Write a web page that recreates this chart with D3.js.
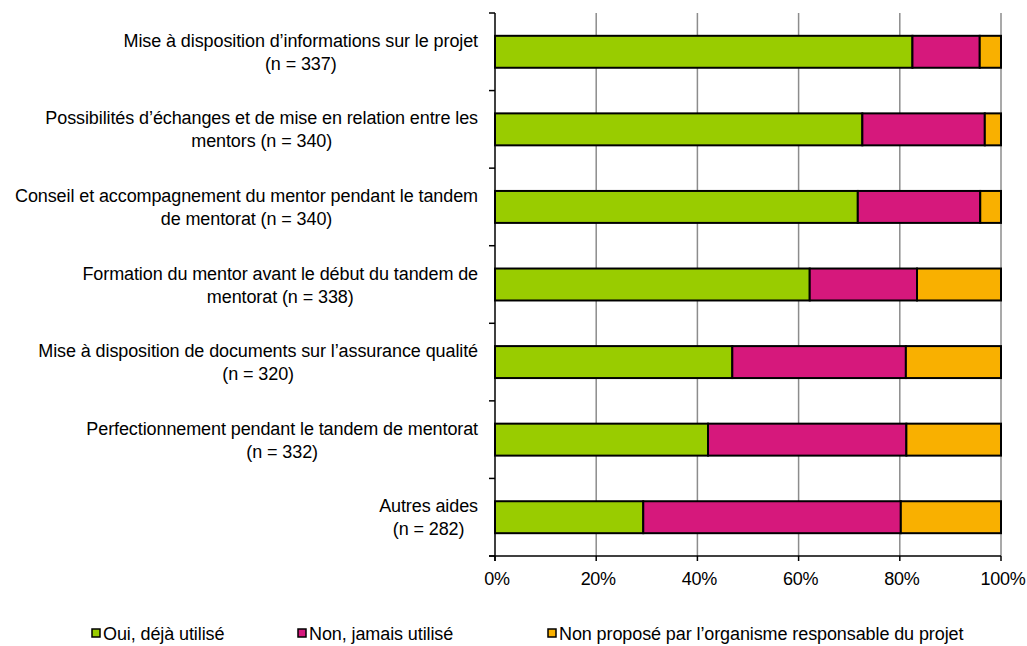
<!DOCTYPE html>
<html><head><meta charset="utf-8">
<script src="https://cdn.jsdelivr.net/npm/d3@7/dist/d3.min.js"></script>
<style>
html,body{margin:0;padding:0;background:#fff;}
text{font-family:"Liberation Sans",Arial,sans-serif;fill:#000;}
</style></head>
<body><svg id="chart" width="1027" height="646"></svg>
<script>
const categories = [
  ["Mise à disposition d’informations sur le projet", "(n = 337)"],
  ["Possibilités d’échanges et de mise en relation entre les", "mentors (n = 340)"],
  ["Conseil et accompagnement du mentor pendant le tandem", "de mentorat (n = 340)"],
  ["Formation du mentor avant le début du tandem de", "mentorat (n = 338)"],
  ["Mise à disposition de documents sur l’assurance qualité", "(n = 320)"],
  ["Perfectionnement pendant le tandem de mentorat", "(n = 332)"],
  ["Autres aides", "(n = 282)"]
];
const seriesNames = ["Oui, déjà utilisé", "Non, jamais utilisé", "Non proposé par l’organisme responsable du projet"];
const oui = [82.5, 72.6, 71.7, 62.2, 46.9, 42.1, 29.3];
const non = [13.3, 24.2, 24.2, 21.2, 34.3, 39.2, 50.9];
const nonPropose = [4.2, 3.2, 4.1, 16.6, 18.8, 18.7, 19.8];
const colors = ["#99CC00", "#D6187C", "#F9B000"];
const xTicks = [0, 20, 40, 60, 80, 100];

(function(){
const svg = d3.select("#chart");
const pl = 495, pr = 1001, pt = 13, pb = 556;
const x = d3.scaleLinear().domain([0, 100]).range([pl, pr]);
const y = d3.scaleBand().domain(d3.range(categories.length)).range([pt, pb]).paddingInner(0.588).paddingOuter(0.294);

// gridlines
svg.append("g").selectAll("line").data(xTicks.slice(1)).join("line")
  .attr("x1", d => x(d)).attr("x2", d => x(d)).attr("y1", pt).attr("y2", pb)
  .attr("stroke", "#8c8c8c").attr("stroke-width", 1.5);

// stacked bars
const rows = categories.map((c, i) => ({i, vals: [oui[i], non[i], nonPropose[i]]}));
const stack = d3.stack().keys([0, 1, 2]).value((d, k) => d.vals[k]);
const stacked = stack(rows);
svg.append("g").selectAll("g").data(stacked).join("g")
  .attr("fill", (d, k) => colors[k])
  .selectAll("rect").data(d => d).join("rect")
  .attr("x", d => x(d[0])).attr("width", d => x(d[1]) - x(d[0]))
  .attr("y", d => y(d.data.i)).attr("height", y.bandwidth())
  .attr("stroke", "#000").attr("stroke-width", 2);

// y axis
const yb = d3.range(categories.length + 1).map(i => pt + i * (pb - pt) / categories.length);
const ga = svg.append("g");
ga.append("line").attr("x1", pl).attr("x2", pl).attr("y1", pt).attr("y2", pb + 5)
  .attr("stroke", "#000").attr("stroke-width", 1.5);
ga.selectAll("line.yt").data(yb).join("line").attr("class", "yt")
  .attr("x1", pl - 6).attr("x2", pl).attr("y1", d => d).attr("y2", d => d)
  .attr("stroke", "#000").attr("stroke-width", 1.5);
// x axis
ga.append("line").attr("x1", pl - 6).attr("x2", pr).attr("y1", pb).attr("y2", pb)
  .attr("stroke", "#000").attr("stroke-width", 1.5);
ga.selectAll("line.xt").data(xTicks).join("line").attr("class", "xt")
  .attr("x1", d => x(d)).attr("x2", d => x(d)).attr("y1", pb).attr("y2", pb + 5)
  .attr("stroke", "#000").attr("stroke-width", 1.5);
ga.selectAll("text.xl").data(xTicks).join("text").attr("class", "xl")
  .attr("x", d => x(d) + 2).attr("y", 585).attr("text-anchor", "middle")
  .style("font-size", "18px").style("letter-spacing", "-0.3px")
  .text(d => d + "%");

// category labels: centered block, right edge at 478
const gl = svg.append("g");
categories.forEach((lines, i) => {
  const cy = y(i) + y.bandwidth() / 2;
  const ts = lines.map((s, j) => gl.append("text")
    .attr("y", cy - 5 + j * 23)
    .attr("text-anchor", "middle")
    .style("font-size", "18px").style("letter-spacing", "-0.1px")
    .text(s));
  const w = d3.max(ts, t => t.node().getComputedTextLength());
  ts.forEach(t => t.attr("x", 478 - w / 2));
});

// legend
const legX = [92, 298, 548];
const lg = svg.append("g").selectAll("g").data(seriesNames).join("g")
  .attr("transform", (d, k) => `translate(${legX[k]},629)`);
lg.append("rect").attr("width", 8).attr("height", 8)
  .attr("fill", (d, k) => colors[k]).attr("stroke", "#000").attr("stroke-width", 1.5);
lg.append("text").attr("x", 11).attr("y", 11)
  .style("font-size", "18px").style("letter-spacing", "-0.1px").text(d => d);
})();
</script></body></html>
